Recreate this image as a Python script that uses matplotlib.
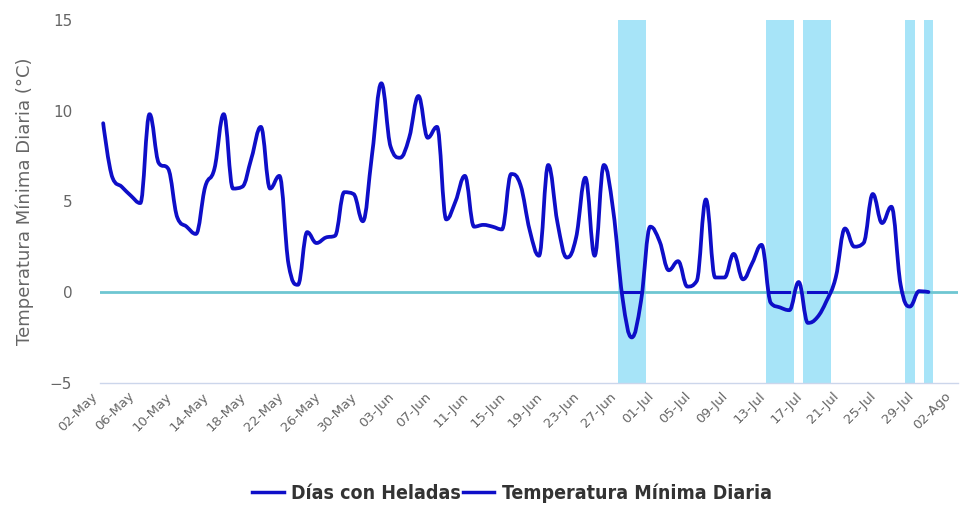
import numpy as np
import matplotlib.pyplot as plt
import matplotlib.transforms as mtransforms
from matplotlib.path import Path
from matplotlib.patches import PathPatch
from matplotlib.lines import Line2D

# temperatura minima diaria, desde 02-May (un valor por dia)
temp_min = [9.3, 6.3, 5.8, 5.3, 4.9, 9.8, 7.1, 6.8, 4.1, 3.6,
            3.2, 5.8, 6.8, 9.8, 5.7, 5.8, 7.4, 9.1, 5.7, 6.4,
            1.5, 0.4, 3.3, 2.7, 3.0, 3.1, 5.5, 5.4, 3.9, 7.6,
            11.5, 8.0, 7.4, 8.5, 10.8, 8.5, 9.1, 4.0, 5.0, 6.4,
            3.6, 3.7, 3.6, 3.45, 6.5, 5.9, 3.4, 2.0, 7.0, 3.8,
            1.9, 3.0, 6.3, 2.0, 7.0, 4.5, -0.3, -2.5, -0.5, 3.6,
            2.8, 1.2, 1.7, 0.3, 0.6, 5.1, 0.8, 0.8, 2.1, 0.7,
            1.6, 2.6, -0.6, -0.85, -1.0, 0.55, -1.7, -1.4, -0.5, 0.8,
            3.5, 2.5, 2.7, 5.4, 3.8, 4.7, 0.4, -0.8, 0.05, 0.0]

# dias con heladas (indice de dia desde 02-May)
dias_helada = [56, 57, 58, 72, 73, 74, 76, 77, 78, 87, 89]

tick_labels = ['02-May', '06-May', '10-May', '14-May', '18-May', '22-May',
               '26-May', '30-May', '03-Jun', '07-Jun', '11-Jun', '15-Jun',
               '19-Jun', '23-Jun', '27-Jun', '01-Jul', '05-Jul', '09-Jul',
               '13-Jul', '17-Jul', '21-Jul', '25-Jul', '29-Jul', '02-Ago']

LINE = '#0e0ec8'
BAND = '#a7e4f8'
ZERO = '#6ec6d2'


def spline_path(xs, ys, smoothing=1.5):
    # curva suave tipo highcharts (bezier cubica por tramo)
    n = len(xs)
    left = [None] * n
    right = [None] * n
    den = smoothing + 1
    for i in range(n):
        x, y = xs[i], ys[i]
        if i == 0 or i == n - 1:
            left[i] = (x, y)
            right[i] = (x, y)
            continue
        lx, ly = xs[i - 1], ys[i - 1]
        nx, ny = xs[i + 1], ys[i + 1]
        lcx = (smoothing * x + lx) / den
        lcy = (smoothing * y + ly) / den
        rcx = (smoothing * x + nx) / den
        rcy = (smoothing * y + ny) / den
        if rcx != lcx:
            corr = (rcy - lcy) * (rcx - x) / (rcx - lcx) + y - rcy
            lcy += corr
            rcy += corr
        if lcy > ly and lcy > y:
            lcy = max(ly, y)
            rcy = 2 * y - lcy
        elif lcy < ly and lcy < y:
            lcy = min(ly, y)
            rcy = 2 * y - lcy
        if rcy > ny and rcy > y:
            rcy = max(ny, y)
            lcy = 2 * y - rcy
        elif rcy < ny and rcy < y:
            rcy = min(ny, y)
            lcy = 2 * y - rcy
        left[i] = (lcx, lcy)
        right[i] = (rcx, rcy)
    verts = [(xs[0], ys[0])]
    codes = [Path.MOVETO]
    for i in range(1, n):
        verts += [right[i - 1], left[i], (xs[i], ys[i])]
        codes += [Path.CURVE4] * 3
    return Path(verts, codes)


dias = np.arange(len(temp_min))

fig = plt.figure(figsize=(9.61, 5.07), dpi=100)
ax = fig.add_axes([0.104, 0.245, 0.893, 0.716])

# bandas de heladas
ax.bar(dias_helada, 20, bottom=-5, width=1.0, color=BAND, linewidth=0, zorder=1)

# linea de cero
ax.axhline(0, color=ZERO, lw=2, zorder=2)

# serie de dias con heladas (valor 0 en dias con helada)
helada = np.full(len(temp_min), np.nan)
helada[dias_helada] = 0
ax.plot(dias, helada, color=LINE, lw=2.2, zorder=3)

# temperatura minima
patch = PathPatch(spline_path(dias, temp_min), facecolor='none', edgecolor=LINE,
                  lw=2.7, capstyle='round', joinstyle='round', zorder=4)
ax.add_patch(patch)

ax.set_xlim(-0.35, 92.2)
ax.set_ylim(-5, 15)
ax.set_yticks([-5, 0, 5, 10, 15])
ax.set_xticks(np.arange(0, 4 * len(tick_labels), 4))
ax.set_xticklabels(tick_labels, rotation=45, ha='right', va='top',
                   rotation_mode='anchor', color='#666666', fontsize=9.5)
ax.tick_params(axis='x', length=0, pad=5)
shift = mtransforms.ScaledTranslation(-9 / 72, 0, fig.dpi_scale_trans)
for lab in ax.get_xticklabels():
    lab.set_transform(lab.get_transform() + shift)
ax.tick_params(axis='y', length=0, pad=20, labelcolor='#666666', labelsize=11)

for s in ['top', 'right', 'left']:
    ax.spines[s].set_visible(False)
ax.spines['bottom'].set_color('#ccd6eb')
ax.spines['bottom'].set_linewidth(1)

ax.set_ylabel('Temperatura Mínima Diaria (°C)', color='#666666', fontsize=13)
ax.yaxis.set_label_coords(-0.077, 0.5)

handles = [Line2D([], [], color=LINE, lw=2.5), Line2D([], [], color=LINE, lw=2.5)]
leg = fig.legend(handles, ['Días con Heladas', 'Temperatura Mínima Diaria'],
                 loc='center', bbox_to_anchor=(0.533, 0.028), ncol=2, frameon=False,
                 handlelength=1.6, handletextpad=0.4, columnspacing=0.1,
                 prop={'family': 'DejaVu Sans', 'stretch': 'condensed',
                       'weight': 'bold', 'size': 14})
for t in leg.get_texts():
    t.set_color('#333333')

fig.savefig('out.png', dpi=100)
